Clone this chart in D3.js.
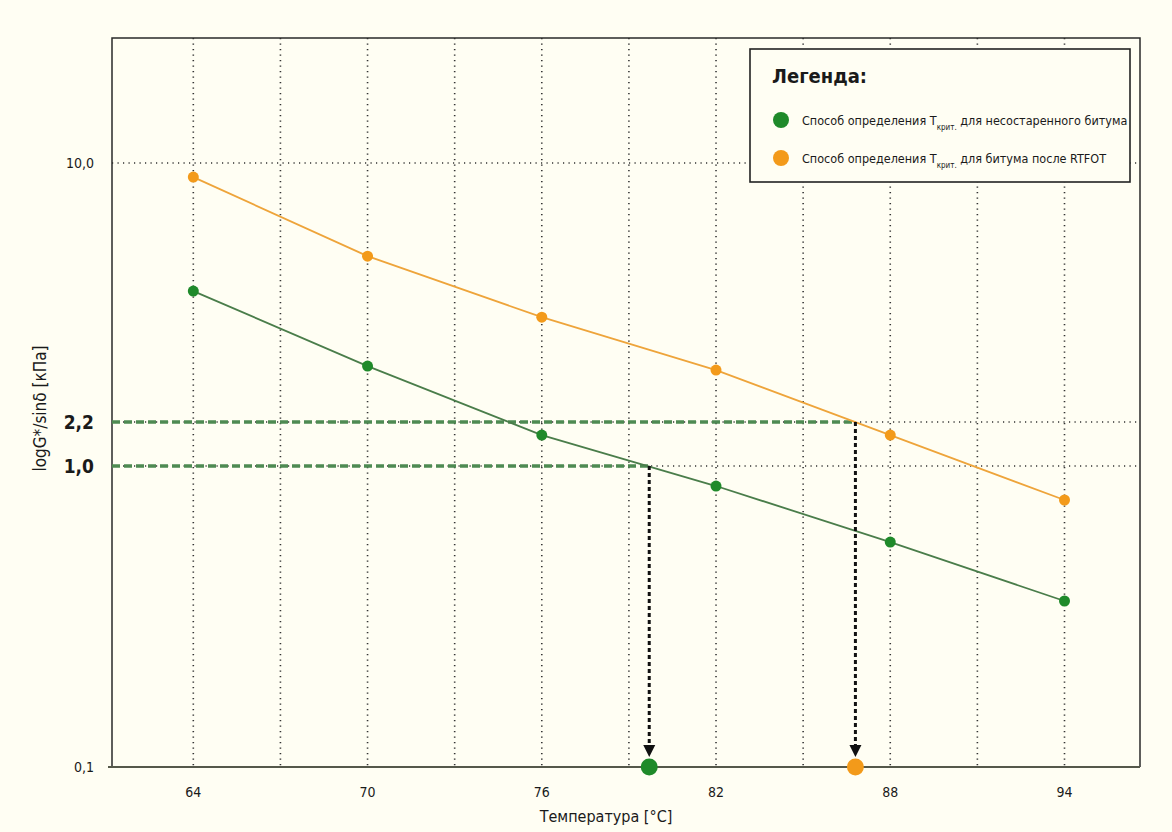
<!DOCTYPE html>
<html><head><meta charset="utf-8">
<script src="https://cdn.jsdelivr.net/npm/d3@7"></script>
<style>
html,body{margin:0;padding:0;background:#fffef3;}
svg{display:block;}
text{font-family:"DejaVu Sans Condensed","DejaVu Sans",sans-serif;font-stretch:condensed;fill:#1a1a1a;}
</style></head>
<body>
<script>
// ---- data ----
const temperatures = [64, 70, 76, 82, 88, 94];
const unagedValues = [4.73, 3.05, 1.74, 0.858, 0.559, 0.356];   // несостаренный битум
const rtfotValues  = [9.21, 5.80, 4.06, 2.98, 1.74, 0.771];     // битум после RTFOT
const gridTemps = [64, 67, 70, 73, 76, 79, 82, 85, 88, 91, 94];
const xTickLabels = ["64", "70", "76", "82", "88", "94"];
const yTickValues = [0.1, 1.0, 2.2, 10.0];
const yTickLabels = ["0,1", "1,0", "2,2", "10,0"];
const criteria = [1.0, 2.2];              // критерии G*/sinδ
const critTemps = [79.7, 86.8];           // найденные Tкрит.
const legendLabels = ["Способ определения T", "Способ определения T"];
const legendTails = [" для несостаренного битума", " для битума после RTFOT"];

const W = 1172, H = 832;
const m = {left: 112, right: 1140, top: 38, bottom: 767};
const colGreen = "#1f8a2a", colGreenLine = "#4a7d4a", colOrange = "#f39a1a", colOrangeLine = "#eea43a";

const svg = d3.select("body").append("svg").attr("width", W).attr("height", H);
svg.append("rect").attr("width", W).attr("height", H).attr("fill", "#fffef3");

const x = d3.scaleLinear().domain([61.2, 96.6]).range([m.left, m.right]);
// schematic log axis as drawn in the original (piecewise in log10 space)
const ph = m.bottom - m.top;
const yLog = d3.scaleLinear()
  .domain([-1, 0, Math.log10(2.2), 1])
  .range([m.bottom, m.bottom - ph * 0.4129, m.bottom - ph * 0.4733, m.bottom - ph * 0.8285]);
const y = v => yLog(Math.log10(v));

// grid
const g = svg.append("g");
g.selectAll(".vg").data(gridTemps).join("line")
  .attr("x1", d => x(d)).attr("x2", d => x(d)).attr("y1", m.top).attr("y2", m.bottom)
  .attr("stroke", "#333").attr("stroke-width", 1.6).attr("stroke-dasharray", "1.2,4.3");
g.selectAll(".hg").data(yTickValues.slice(1)).join("line")
  .attr("x1", m.left).attr("x2", m.right).attr("y1", d => y(d)).attr("y2", d => y(d))
  .attr("stroke", "#333").attr("stroke-width", 1.6).attr("stroke-dasharray", "1.2,4.3");

// frame
svg.append("path")
  .attr("d", `M${m.left},${m.bottom}V${m.top}H${m.right}V${m.bottom}`)
  .attr("fill", "none").attr("stroke", "#2a2a2a").attr("stroke-width", 1.5);
svg.append("line").attr("x1", m.left - 4).attr("x2", m.right).attr("y1", m.bottom).attr("y2", m.bottom)
  .attr("stroke", "#55584a").attr("stroke-width", 2);

// x tick labels
svg.selectAll(".xt").data(temperatures).join("text")
  .attr("x", d => x(d)).attr("y", m.bottom + 30).attr("text-anchor", "middle")
  .attr("font-size", 14).text((d, i) => xTickLabels[i]);
svg.append("text").attr("x", (m.left + m.right) / 2 - 20).attr("y", m.bottom + 55)
  .attr("text-anchor", "middle").attr("font-size", 16).text("Температура [°C]");

// y tick labels
svg.selectAll(".yt").data(yTickValues).join("text")
  .attr("x", 94).attr("y", d => y(d)).attr("dy", "0.35em").attr("text-anchor", "end")
  .attr("font-size", (d, i) => (i === 1 || i === 2) ? 19 : 14)
  .attr("font-weight", (d, i) => (i === 1 || i === 2) ? "bold" : "normal")
  .text((d, i) => yTickLabels[i]);
svg.append("text").attr("transform", `translate(46,${(m.top + m.bottom) / 2 + 6}) rotate(-90)`)
  .attr("text-anchor", "middle").attr("font-size", 17).text("logG*/sinδ [кПа]");

// reference dashed lines
criteria.forEach((c, i) => {
  svg.append("line").attr("x1", m.left).attr("x2", x(critTemps[i]))
    .attr("y1", y(c)).attr("y2", y(c))
    .attr("stroke", "#4e8a52").attr("stroke-width", 3.5).attr("stroke-dasharray", "8,4");
});

// data lines
const line = d3.line().x((d, i) => x(temperatures[i])).y(d => y(d));
svg.append("path").datum(unagedValues).attr("d", line).attr("fill", "none")
  .attr("stroke", colGreenLine).attr("stroke-width", 1.8);
svg.append("path").datum(rtfotValues).attr("d", line).attr("fill", "none")
  .attr("stroke", colOrangeLine).attr("stroke-width", 1.8);
svg.selectAll(".pg").data(unagedValues).join("circle")
  .attr("cx", (d, i) => x(temperatures[i])).attr("cy", d => y(d)).attr("r", 5.5).attr("fill", colGreen);
svg.selectAll(".po").data(rtfotValues).join("circle")
  .attr("cx", (d, i) => x(temperatures[i])).attr("cy", d => y(d)).attr("r", 5.5).attr("fill", colOrange);

// arrows down to critical temperatures
const critCols = [colGreen, colOrange];
criteria.forEach((c, i) => {
  const cx = x(critTemps[i]);
  svg.append("line").attr("x1", cx).attr("x2", cx).attr("y1", y(c)).attr("y2", m.bottom - 16)
    .attr("stroke", "#111").attr("stroke-width", 3).attr("stroke-dasharray", "4,3");
  svg.append("path")
    .attr("d", `M${cx - 6},${m.bottom - 22}L${cx + 6},${m.bottom - 22}L${cx},${m.bottom - 10}Z`)
    .attr("fill", "#111");
  svg.append("circle").attr("cx", cx).attr("cy", m.bottom).attr("r", 8.5).attr("fill", critCols[i]);
});

// legend
const lg = svg.append("g");
lg.append("rect").attr("x", 750).attr("y", 49).attr("width", 380).attr("height", 133)
  .attr("fill", "#fffef3").attr("stroke", "#222").attr("stroke-width", 1.6);
lg.append("text").attr("x", 772).attr("y", 83).attr("font-size", 20).attr("font-weight", "bold").text("Легенда:");
legendLabels.forEach((lab, i) => {
  const cy = 120 + i * 38;
  lg.append("circle").attr("cx", 781).attr("cy", cy).attr("r", 8).attr("fill", critCols[i]);
  const t = lg.append("text").attr("x", 802).attr("y", cy + 5).attr("font-size", 12.5);
  t.append("tspan").text(lab);
  t.append("tspan").attr("font-size", 8).attr("dy", 5).text("крит.");
  t.append("tspan").attr("dy", -5).text(legendTails[i]);
});
</script>
</body></html>
